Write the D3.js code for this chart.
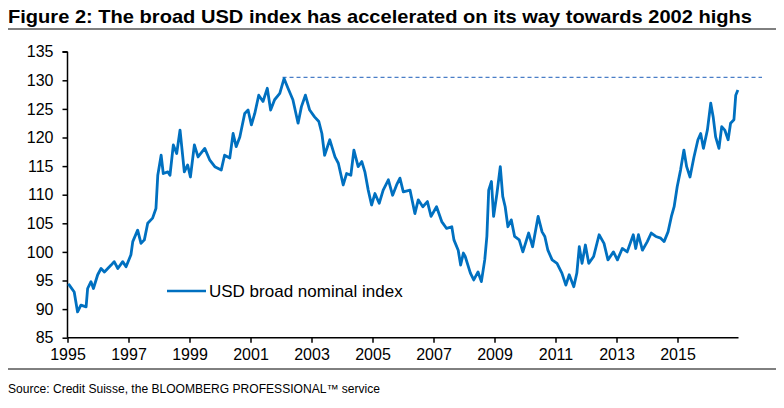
<!DOCTYPE html>
<html><head><meta charset="utf-8">
<script src="https://cdn.jsdelivr.net/npm/d3@7"></script>
<style>body{margin:0;background:#fff}svg{display:block}</style>
</head><body>
<script>
const title = "Figure 2: The broad USD index has accelerated on its way towards 2002 highs";
const source = "Source: Credit Suisse, the BLOOMBERG PROFESSIONAL\u2122 service";
const seriesName = "USD broad nominal index";
const yTicks = [85,90,95,100,105,110,115,120,125,130,135];
const xTicks = [1995,1997,1999,2001,2003,2005,2007,2009,2011,2013,2015];
const highLevel = 130.5;
const highStart = 2002.05;
// decimal year, index value
const years = [1995.02,1995.06,1995.22,1995.33,1995.44,1995.61,1995.66,1995.77,1995.85,1995.99,1996.10,1996.21,1996.43,1996.53,1996.65,1996.81,1996.92,
1997.08,1997.14,1997.30,1997.41,1997.52,1997.63,1997.79,1997.90,1997.96,1998.07,1998.14,1998.29,1998.36,1998.47,1998.58,1998.69,1998.83,1998.94,
1999.03,1999.16,1999.28,1999.50,1999.66,1999.83,2000.04,2000.15,2000.32,2000.43,2000.53,2000.65,2000.81,2000.92,
2001.03,2001.14,2001.27,2001.41,2001.55,2001.66,2001.79,2001.96,2002.10,2002.23,2002.39,2002.56,2002.67,2002.80,2002.94,
2003.10,2003.24,2003.34,2003.43,2003.60,2003.77,2003.88,2004.04,2004.15,2004.29,2004.39,2004.53,2004.65,2004.75,2004.86,2004.97,
2005.08,2005.22,2005.35,2005.52,2005.66,2005.79,2005.90,2006.01,2006.23,2006.39,2006.50,2006.65,2006.80,2006.92,
2007.10,2007.27,2007.43,2007.60,2007.67,2007.81,2007.89,2007.98,2008.04,2008.21,2008.32,2008.46,2008.57,2008.68,2008.75,2008.81,2008.90,2008.97,
2009.08,2009.19,2009.27,2009.35,2009.44,2009.55,2009.66,2009.81,2009.93,2010.12,2010.25,2010.43,2010.56,2010.65,2010.75,2010.89,
2011.05,2011.21,2011.34,2011.45,2011.60,2011.70,2011.78,2011.87,2011.98,2012.09,2012.25,2012.43,2012.59,2012.72,2012.90,
2013.03,2013.19,2013.35,2013.55,2013.63,2013.72,2013.85,2014.01,2014.14,2014.29,2014.45,2014.56,2014.69,2014.80,2014.89,2014.99,
2015.10,2015.21,2015.30,2015.41,2015.54,2015.67,2015.76,2015.85,2015.98,2016.09,2016.17,2016.25,2016.36,2016.45,2016.55,2016.66,2016.74,2016.85,2016.91,2016.98];
const values = [94.4,94.2,93.0,89.5,90.7,90.4,93.6,94.8,93.6,96.0,97.1,96.5,97.7,98.3,97.1,98.3,97.4,
99.5,101.8,103.8,101.5,102.1,105.0,105.9,107.6,113.4,116.9,113.7,114.0,113.4,118.7,117.2,121.3,114.0,115.2,
113.1,118.7,116.6,118.1,116.1,114.9,114.3,116.9,116.4,120.7,118.4,120.1,124.2,124.8,
122.2,124.2,127.4,126.3,128.6,124.8,126.6,127.7,130.3,128.6,126.6,122.5,125.4,127.4,124.8,
123.6,122.8,120.7,116.9,119.6,116.6,115.5,111.7,113.7,113.4,117.8,114.9,115.8,114.0,110.8,108.2,
110.2,108.5,110.8,112.6,109.9,111.7,112.9,110.5,110.8,106.7,109.1,107.9,108.8,106.2,
107.9,105.3,104.1,104.4,102.1,100.3,97.7,99.8,99.2,96.3,95.1,96.5,94.8,98.6,102.7,110.8,112.3,106.2,
110.2,114.9,109.7,107.9,104.4,105.6,102.7,102.1,100.0,103.3,100.9,106.2,103.5,102.7,100.3,98.6,
98.0,96.3,94.2,96.0,93.9,96.3,100.9,98.0,101.2,98.0,99.2,103.0,101.5,98.6,100.0,
98.6,100.6,100.0,103.0,100.6,103.0,100.3,101.8,103.3,102.7,102.4,101.8,103.5,106.2,107.9,111.4,
114.3,117.8,114.9,113.1,116.6,119.6,120.7,118.1,121.3,126.0,123.6,120.1,118.1,121.9,121.3,119.6,122.5,123.1,127.4,128.3];

const W = 784, H = 408;
const svg = d3.select("body").append("svg").attr("width", W).attr("height", H)
  .style("font-family", "Arial, 'Liberation Sans', sans-serif");

const x = d3.scaleLinear().domain([1995, 2017]).range([67.5, 738.5]);
const y = d3.scaleLinear().domain([85, 135]).range([337.7, 51.7]);

// title
svg.append("text").attr("x", 8).attr("y", 23)
  .style("font-family", "'Liberation Sans Narrow', 'Arial Narrow', Arial, sans-serif")
  .style("font-weight", "bold").style("font-size", "18.5px")
  .attr("textLength", 744).attr("lengthAdjust", "spacingAndGlyphs")
  .text(title);
svg.append("line").attr("x1", 8).attr("x2", 776).attr("y1", 29).attr("y2", 29)
  .attr("stroke", "#000").attr("stroke-width", 1);

// axes
const gy = svg.append("g").attr("transform", `translate(${x.range()[0]},0)`)
  .call(d3.axisLeft(y).tickValues(yTicks).tickSize(5).tickPadding(9).tickFormat(d3.format("d")));
gy.selectAll("text").style("font-size", "16px").attr("fill", "#000");
gy.selectAll("line,path").attr("stroke", "#000").attr("stroke-width", 1.5);
gy.select(".domain").attr("d", `M0,${y(85)}V${y(135)}M-5,${y(135)}H0`);

const gx = svg.append("g").attr("transform", `translate(0,${y(85)})`)
  .call(d3.axisBottom(x).tickValues(xTicks).tickSize(5).tickPadding(6).tickFormat(d3.format("d")));
gx.selectAll("text").style("font-size", "16px").attr("fill", "#000");
gx.selectAll("line,path").attr("stroke", "#000").attr("stroke-width", 1.5);
gx.select(".domain").attr("d", `M${x.range()[0]},0H${x.range()[1]}`);

// dashed high line
svg.append("line").attr("x1", x(highStart)).attr("x2", 762)
  .attr("y1", y(highLevel)).attr("y2", y(highLevel))
  .attr("stroke", "#4A7EC7").attr("stroke-width", 1.2).attr("stroke-dasharray", "4,3");

// series
const data = years.map((t, i) => [t, values[i]]);
svg.append("path").datum(data)
  .attr("fill", "none").attr("stroke", "#0070C0").attr("stroke-width", 2.8)
  .attr("stroke-linejoin", "round")
  .attr("d", d3.line().x(d => x(d[0])).y(d => y(d[1])));

// legend
svg.append("line").attr("x1", 167).attr("x2", 206).attr("y1", 291).attr("y2", 291)
  .attr("stroke", "#0070C0").attr("stroke-width", 2.6);
svg.append("text").attr("x", 209).attr("y", 297).style("font-size", "17px").text(seriesName);

// footer
svg.append("line").attr("x1", 8).attr("x2", 776).attr("y1", 369).attr("y2", 369)
  .attr("stroke", "#000").attr("stroke-width", 1);
svg.append("text").attr("x", 8).attr("y", 393).style("font-size", "12px")
  .attr("textLength", 372).attr("lengthAdjust", "spacingAndGlyphs").text(source);
</script>
</body></html>
